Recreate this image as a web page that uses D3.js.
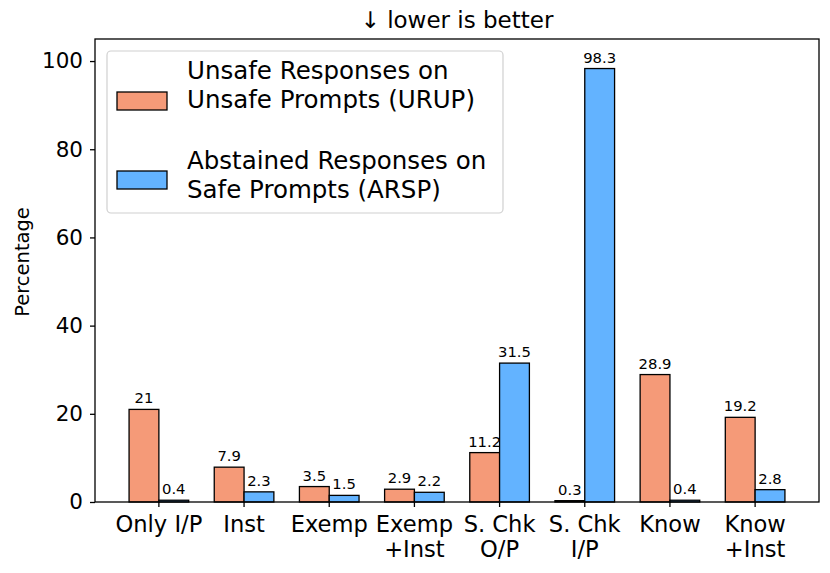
<!DOCTYPE html>
<html><head><meta charset="utf-8">
<script src="https://cdn.jsdelivr.net/npm/d3@7"></script>
<style>body{margin:0;background:#fff}svg{font-family:"DejaVu Sans",sans-serif}</style>
</head><body>
<svg id="c" width="830" height="573"></svg>
<script>
const categories = [["Only I/P"],["Inst"],["Exemp"],["Exemp","+Inst"],["S. Chk","O/P"],["S. Chk","I/P"],["Know"],["Know","+Inst"]];
const urup = [21, 7.9, 3.5, 2.9, 11.2, 0.3, 28.9, 19.2];
const arsp = [0.4, 2.3, 1.5, 2.2, 31.5, 98.3, 0.4, 2.8];
const yTicks = [0, 20, 40, 60, 80, 100];
const seriesNames = [["Unsafe Responses on","Unsafe Prompts (URUP)"],["Abstained Responses on","Safe Prompts (ARSP)"]];
const colors = ["#f59a78", "#63b3ff"];

const svg = d3.select("#c");
const L = 95, R = 819, T = 39, B = 502;
const x = d3.scaleLinear().domain([-0.75, 7.75]).range([L, R]);
const y = d3.scaleLinear().domain([0, 105]).range([B, T]);
const bw = 0.35;

// bars
const series = [urup, arsp];
series.forEach((vals, si) => {
  const g = svg.append("g");
  vals.forEach((v, i) => {
    const x0 = si === 0 ? x(i - bw) : x(i);
    const x1 = si === 0 ? x(i) : x(i + bw);
    g.append("rect").attr("x", x0).attr("y", y(v)).attr("width", x1 - x0).attr("height", y(0) - y(v))
      .attr("fill", colors[si]).attr("stroke", "#000").attr("stroke-width", 1.3);
    g.append("text").attr("x", (x0 + x1) / 2).attr("y", y(v) - 6).attr("text-anchor", "middle")
      .attr("font-size", 14.8).text(v);
  });
});

// axes box
svg.append("rect").attr("x", L).attr("y", T).attr("width", R - L).attr("height", B - T)
  .attr("fill", "none").attr("stroke", "#000").attr("stroke-width", 1.3);

// y axis
const ya = svg.append("g").attr("transform", `translate(${L},0)`)
  .call(d3.axisLeft(y).tickValues(yTicks).tickSize(5).tickPadding(7));
ya.select(".domain").remove();
ya.selectAll("line").attr("stroke-width", 1.3);
ya.selectAll("text").attr("font-size", 21.5).attr("font-family", "DejaVu Sans").attr("fill", "#000");

// x axis
const xa = svg.append("g").attr("transform", `translate(0,${B})`);
categories.forEach((lines, i) => {
  xa.append("line").attr("x1", x(i)).attr("x2", x(i)).attr("y1", 0).attr("y2", 5).attr("stroke", "#000").attr("stroke-width", 1.3);
  const t = xa.append("text").attr("text-anchor", "middle").attr("font-size", 22.6);
  lines.forEach((ln, j) => t.append("tspan").attr("x", x(i)).attr("y", 30 + j * 25).text(ln));
});

// y label
svg.append("text").attr("transform", `translate(29,262) rotate(-90)`).attr("text-anchor", "middle")
  .attr("font-size", 19.5).text("Percentage");

// title
svg.append("text").attr("x", (L + R) / 2).attr("y", 28).attr("text-anchor", "middle")
  .attr("font-size", 23).text("↓  lower is better");

// legend
const lg = svg.append("g");
lg.append("rect").attr("x", 107).attr("y", 51).attr("width", 396).attr("height", 162).attr("rx", 4)
  .attr("fill", "#fff").attr("fill-opacity", 0.8).attr("stroke", "#d0d0d0").attr("stroke-width", 1.2);
const patchY = [92, 171];
const textY = [79, 169];
seriesNames.forEach((lines, i) => {
  lg.append("rect").attr("x", 117).attr("y", patchY[i]).attr("width", 50).attr("height", 18)
    .attr("fill", colors[i]).attr("stroke", "#000").attr("stroke-width", 1.3);
  const t = lg.append("text").attr("font-size", 24.5);
  lines.forEach((ln, j) => t.append("tspan").attr("x", 187).attr("y", textY[i] + j * 28.5).text(ln));
});
</script>
</body></html>
